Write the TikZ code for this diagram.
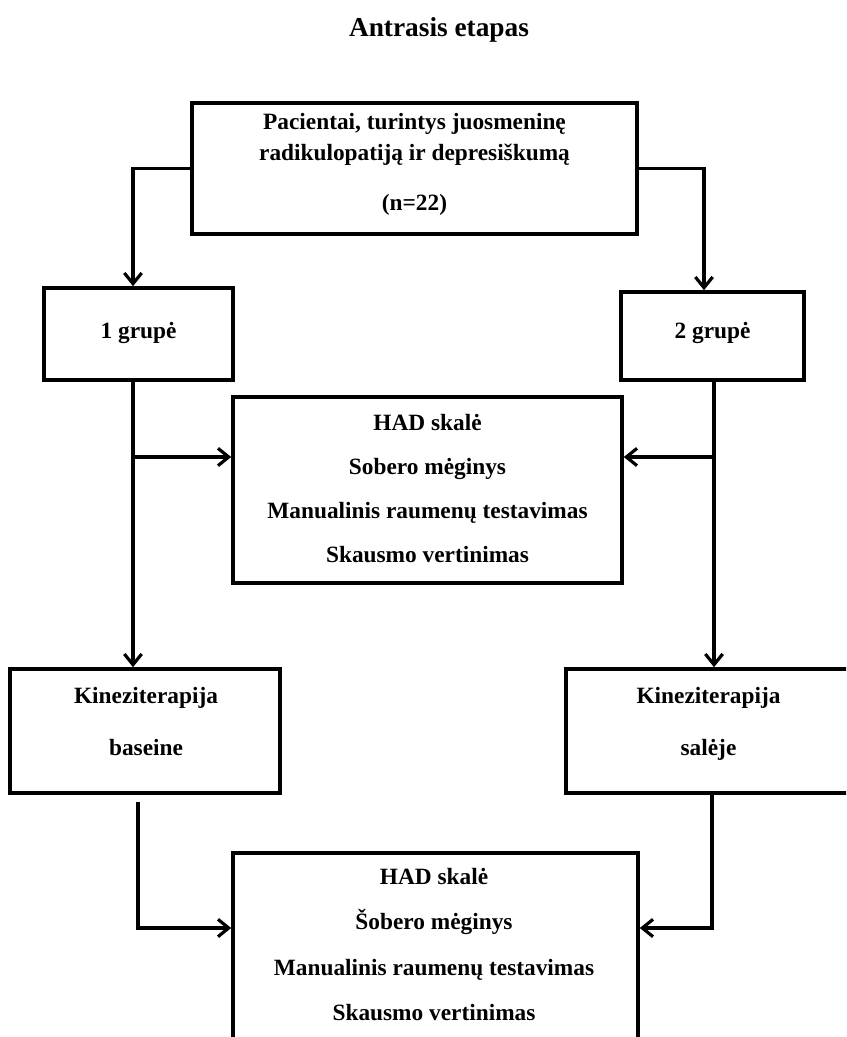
\documentclass[tikz,border=0pt]{standalone}
\usepackage{fontspec}
\setmainfont{Liberation Serif}
\usetikzlibrary{arrows.meta,calc}
\newcommand{\bodyfnt}{\fontsize{17.5}{21}\selectfont\bfseries}
\newcommand{\titlefnt}{\fontsize{20.5}{24}\selectfont\bfseries}
\begin{document}
\begin{tikzpicture}[x=0.75pt,y=-0.75pt,
  box/.style={draw, line width=2.7pt, rectangle, inner sep=0pt},
  wh/.style 2 args={minimum width=#1*0.75pt, minimum height=#2*0.75pt},
  ln/.style={font=\bodyfnt, anchor=base, inner sep=0pt},
  conn/.style={line width=2.4pt, -{Straight Barb[length=8pt,width=13pt]}},
  plainline/.style={line width=2.4pt}]
\useasboundingbox (0,0) rectangle (846,1037);
\clip (0,0) rectangle (846,1037);

% title
\node[font=\titlefnt, anchor=base, inner sep=0pt] (title) at (439,37) {Antrasis etapas};

% boxes
\node[box, wh={445}{131}] (top) at (414.5,168.5) {};
\node[box, wh={189}{92}]  (g1)  at (138.5,334) {};
\node[box, wh={183}{88}]  (g2)  at (712.5,336) {};
\node[box, wh={389}{186}] (mid) at (427.5,490) {};
\node[box, wh={270}{124}] (k1)  at (145,731) {};
\node[box, wh={285}{124}] (k2)  at (708.5,731) {};
\node[box, wh={405}{207}] (fin) at (435.5,956.5) {};

% texts
\node[ln] (topa) at (414.5,130) {Pacientai, turintys juosmeninę};
\node[ln] (topb) at (414.5,161) {radikulopatiją ir depresiškumą};
\node[ln] (topc) at (414.5,211) {(n=22)};
\node[ln] (g1t) at (138.5,338) {1 grupė};
\node[ln] (g2t) at (712.5,338) {2 grupė};
\node[ln] (mida) at (427.5,430) {HAD skalė};
\node[ln] (midb) at (427.5,474) {Sobero mėginys};
\node[ln] (midc) at (427.5,518) {Manualinis raumenų testavimas};
\node[ln] (midd) at (427.5,562) {Skausmo vertinimas};
\node[ln] (k1a) at (146,703) {Kineziterapija};
\node[ln] (k1b) at (146,755) {baseine};
\node[ln] (k2a) at (708.5,703) {Kineziterapija};
\node[ln] (k2b) at (708.5,755) {salėje};
\node[ln] (fina) at (434,884) {HAD skalė};
\node[ln] (finb) at (434,929) {Šobero mėginys};
\node[ln] (finc) at (434,975) {Manualinis raumenų testavimas};
\node[ln] (find) at (434,1020) {Skausmo vertinimas};

% connector bend points
\coordinate (tL) at (133,168.5);
\coordinate (tR) at (704,168.5);
\coordinate (aL) at (133,457);
\coordinate (aR) at (714,457);
\coordinate (bLs) at (138,802);
\coordinate (bL) at (138,928);
\coordinate (bR) at (712,928);

% top split
\draw[conn] (top.west) -- (tL) -- (tL |- g1.north);
\draw[conn] (top.east) -- (tR) -- (tR |- g2.north);

% to middle and down
\draw[conn] (aL |- g1.south) -- (aL |- k1.north);
\draw[conn] (aL) -- (aL -| mid.west);
\draw[conn] (aR |- g2.south) -- (aR |- k2.north);
\draw[conn] (aR) -- (aR -| mid.east);

% to final
\draw[conn] (bLs) -- (bL) -- (bL -| fin.west);
\draw[conn] (bR |- k2.south) -- (bR) -- (bR -| fin.east);
\end{tikzpicture}
\end{document}
